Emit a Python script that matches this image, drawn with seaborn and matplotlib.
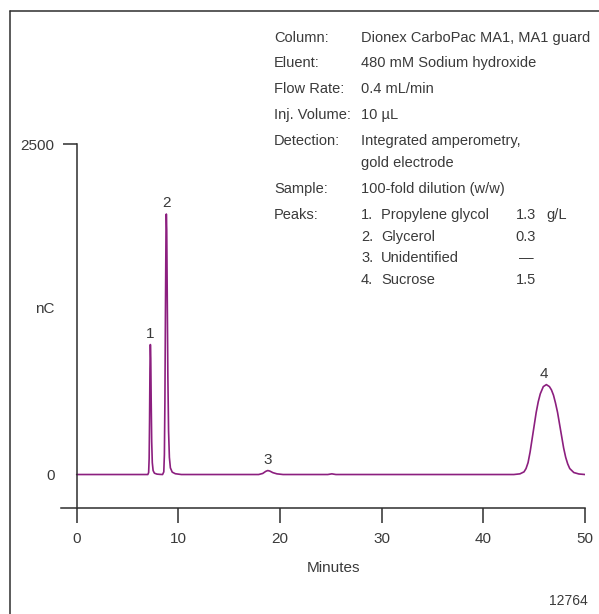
import numpy as np
import pandas as pd
import seaborn as sns
import matplotlib.pyplot as plt
from matplotlib.lines import Line2D

## Data (minutes, nC)
time = [0, 3, 6.0, 7.0, 7.08, 7.13, 7.17, 7.21, 7.25, 7.29, 7.33, 7.38, 7.44, 7.52, 7.65, 7.9,
        8.2, 8.45, 8.57, 8.63, 8.68, 8.73, 8.78, 8.82, 8.86, 8.91, 8.97, 9.04, 9.12, 9.22, 9.4,
        9.7, 10.3, 13, 17.9, 18.3, 18.6, 18.8, 19.0, 19.3, 19.7, 20.3, 24.7, 25.1, 25.5, 32,
        38, 43.0, 43.6, 44.0, 44.2, 44.4, 44.6, 44.8, 45.0, 45.2, 45.4, 45.6, 45.9, 46.2, 46.5,
        46.7, 46.9, 47.1, 47.3, 47.5, 47.7, 47.9, 48.1, 48.3, 48.5, 48.9, 49.4, 50]
signal = [0, 0, 0, 0, 15, 120, 400, 800, 983, 880, 560, 250, 90, 30, 10, 3,
          1, 0, 20, 150, 550, 1200, 1750, 1970, 1850, 1350, 750, 330, 130, 50, 18,
          6, 0, 0, 0, 8, 24, 30, 26, 14, 5, 0, 0, 5, 0, 0,
          0, 0, 5, 20, 45, 90, 170, 270, 370, 470, 550, 610, 665, 680, 665,
          640, 600, 540, 470, 380, 290, 200, 130, 80, 45, 15, 4, 0]

peak_numbers = ['1', '2', '3', '4']
peak_times = [7.25, 8.82, 18.8, 46.0]
peak_heights = [983, 1970, 30, 680]
peak_names = ['Propylene glycol', 'Glycerol', 'Unidentified', 'Sucrose']
peak_amounts = ['1.3', '0.3', '\u2014', '1.5']

cond_labels = ['Column:', 'Eluent:', 'Flow Rate:', 'Inj. Volume:', 'Detection:', '', 'Sample:']
cond_values = ['Dionex CarboPac MA1, MA1 guard', '480 mM Sodium hydroxide', '0.4 mL/min',
               '10 \u00b5L', 'Integrated amperometry,', 'gold electrode', '100-fold dilution (w/w)']

x_ticks = [0, 10, 20, 30, 40, 50]
y_ticks = [0, 2500]

df = pd.DataFrame({'Minutes': time, 'nC': signal})

sns.set_theme(style='white')
plt.rcParams['font.family'] = ['Liberation Sans', 'DejaVu Sans']
txt = '#3a3a3a'
ink = '#2e2e2e'
trace = '#8c1f7f'
fs = 10.5

W, H = 599, 614
fig = plt.figure(figsize=(W / 100, H / 100), dpi=100)

def fx(px):
    return px / W

def fy(py):
    return 1 - py / H

# axes box: x -1.54..50 -> px 61..585 ; y -251..2500 -> px 507.7..144
ax = fig.add_axes([fx(61), fy(507.7), fx(585) - fx(61), fy(144) - fy(507.7)])
sns.lineplot(data=df, x='Minutes', y='nC', ax=ax, color=trace, linewidth=1.2)
ax.set_xlim(-1.54, 50)
ax.set_ylim(-251, 2500)

for s in ['top', 'right']:
    ax.spines[s].set_visible(False)
ax.spines['left'].set_position(('data', 0))
for s in ['left', 'bottom']:
    ax.spines[s].set_color(ink)
    ax.spines[s].set_linewidth(1.1)

ax.set_xticks(x_ticks)
ax.set_yticks(y_ticks)
ax.set_yticklabels([str(v) for v in y_ticks])
ax.tick_params(axis='x', direction='out', length=10.8, width=1.1, color=ink,
               labelsize=11, labelcolor=txt, pad=7, bottom=True)
ax.tick_params(axis='y', direction='out', length=10, width=1.1, color=ink,
               labelsize=11, labelcolor=txt, pad=6, left=True)
# the 0 on the y axis has a label but no tick mark
ax.yaxis.get_major_ticks()[0].tick1line.set_visible(False)
ax.set_xlabel('')
ax.set_ylabel('')

ax.text(25.3, -707, 'Minutes', ha='center', va='center', fontsize=11, color=txt, clip_on=False)
ax.text(-3.1, 1252, 'nC', ha='center', va='center', fontsize=11, color=txt, clip_on=False)

for num, t, h in zip(peak_numbers, peak_times, peak_heights):
    ax.annotate(num, xy=(t, h), xytext=(0, 5), textcoords='offset points',
                ha='center', va='baseline', fontsize=11, color=txt)

# condition block
col1, col2 = 274, 361
rows_y = [38, 63, 89, 115, 141, 163, 189]
for lab, val, y in zip(cond_labels, cond_values, rows_y):
    if lab:
        fig.text(fx(col1), fy(y), lab, ha='left', va='center', fontsize=fs, color=txt)
    fig.text(fx(col2), fy(y), val, ha='left', va='center', fontsize=fs, color=txt)

peak_rows = [215, 237, 258, 280]
fig.text(fx(col1), fy(peak_rows[0]), 'Peaks:', ha='left', va='center', fontsize=fs, color=txt)
for i, (name, amt, y) in enumerate(zip(peak_names, peak_amounts, peak_rows)):
    fig.text(fx(col2), fy(y), f'{i + 1}.', ha='left', va='center', fontsize=fs, color=txt)
    fig.text(fx(381), fy(y), name, ha='left', va='center', fontsize=fs, color=txt)
    fig.text(fx(526), fy(y), amt, ha='center', va='center', fontsize=fs, color=txt)
fig.text(fx(546), fy(peak_rows[0]), 'g/L', ha='left', va='center', fontsize=fs, color=txt)

fig.text(fx(588), fy(601), '12764', ha='right', va='center', fontsize=10, color=txt)

# outer frame (top and left edges)
fig.add_artist(Line2D([fx(10), 1], [fy(11), fy(11)], color=ink, linewidth=1.1))
fig.add_artist(Line2D([fx(10), fx(10)], [fy(11), 0], color=ink, linewidth=1.1))

fig.savefig('out.png', dpi=100)
